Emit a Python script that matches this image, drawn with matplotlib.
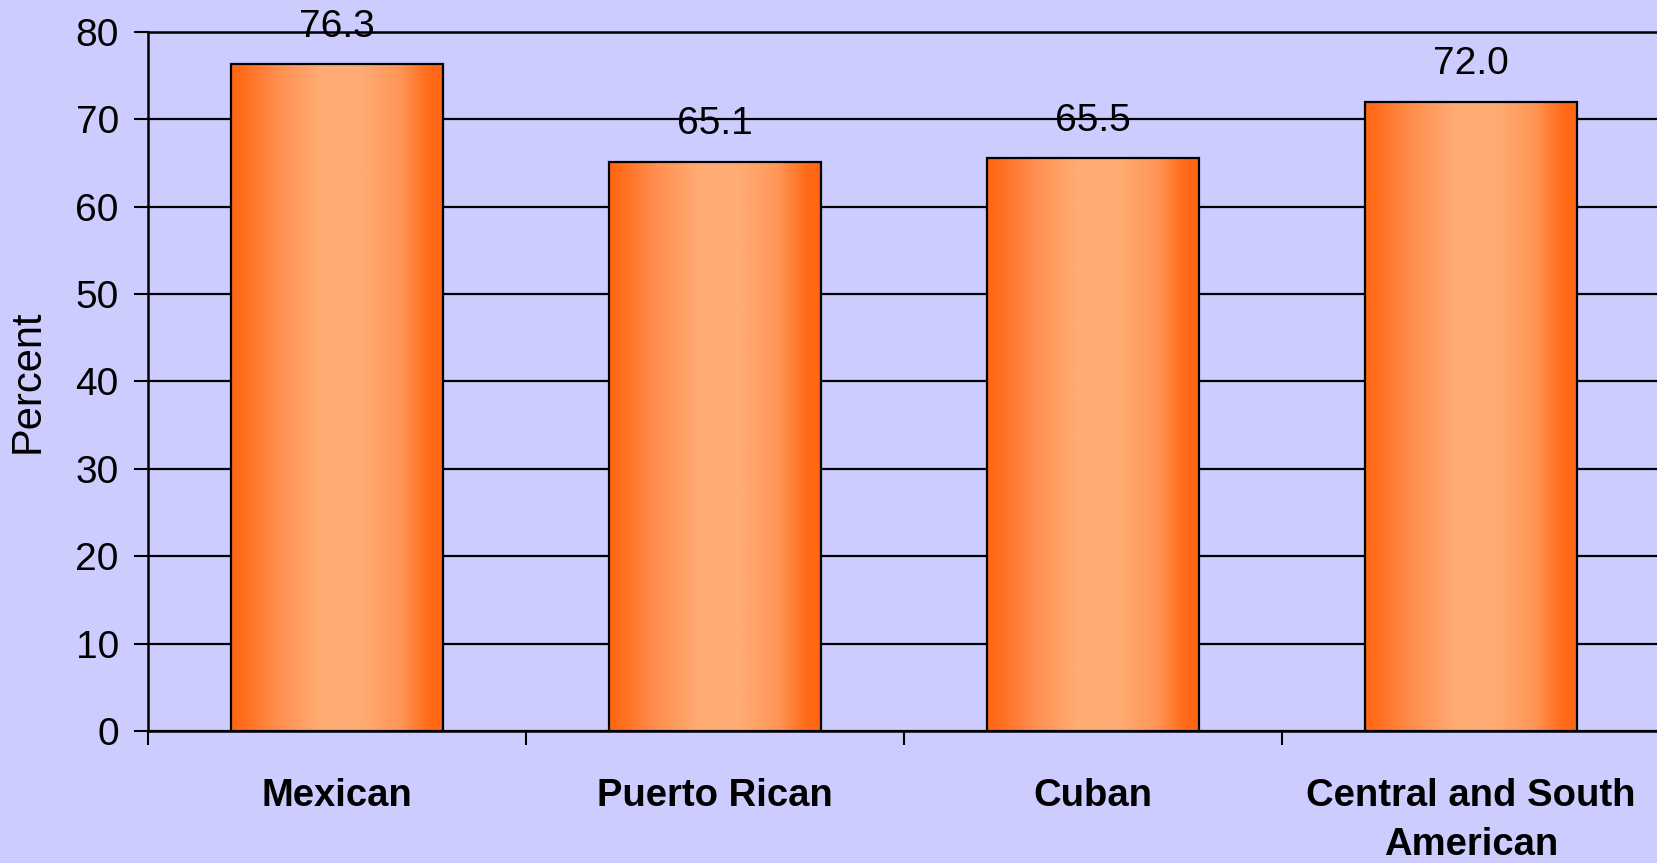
import numpy as np
import matplotlib
matplotlib.use("Agg")
import matplotlib.pyplot as plt
from matplotlib.colors import LinearSegmentedColormap

# ── Data ─────────────────────────────────────────────────────────────────────
categories = ["Mexican", "Puerto Rican", "Cuban", "Central and South\nAmerican"]
values     = [76.3, 65.1, 65.5, 72.0]
y_ticks    = [0, 10, 20, 30, 40, 50, 60, 70, 80]

BG    = "#CCCCFF"
DARK  = "#FF6612"
LIGHT = "#FFAB74"

plt.rcParams["font.family"] = ["Liberation Sans", "DejaVu Sans"]

grad_cmap = LinearSegmentedColormap.from_list(
    "bar_grad",
    [(0.00, DARK), (0.06, "#FF6E1E"), (0.22, "#FF8F4F"), (0.42, LIGHT),
     (0.62, LIGHT), (0.80, "#FF9657"), (0.93, "#FF6C1A"), (1.00, DARK)],
)

fig = plt.figure(figsize=(16.57, 8.63), dpi=100, facecolor=BG)
ax = fig.add_axes([148 / 1657, 1 - 731 / 863, 1512 / 1657, (731 - 31.7) / 863])
ax.set_facecolor(BG)

x = np.arange(len(categories)) + 0.5
bars = ax.bar(x, values, width=0.56, color="none", edgecolor="black",
              linewidth=1.6, zorder=3)

# horizontal gradient fill clipped to each bar
grad = np.linspace(0, 1, 256).reshape(1, -1)
for b in bars:
    x0, w, h = b.get_x(), b.get_width(), b.get_height()
    im = ax.imshow(grad, cmap=grad_cmap, aspect="auto",
                   extent=(x0, x0 + w, 0, h), zorder=2, interpolation="bilinear")
    im.set_clip_path(b)

for xi, v in zip(x, values):
    ax.annotate(f"{v:.1f}", (xi, v), xytext=(0, 27), textcoords="offset points",
                ha="center", va="center", fontsize=28, zorder=4)

ax.set_xlim(0, 4)
ax.set_ylim(0, 80)
ax.set_yticks(y_ticks)
ax.yaxis.grid(True, color="black", linewidth=1.6, zorder=1)
ax.set_axisbelow(True)

ax.set_xticks(x)
ax.set_xticklabels(categories, fontsize=27.5, fontweight="bold", linespacing=1.45)
ax.set_xticks(np.arange(0, 5), minor=True)
ax.tick_params(axis="x", which="major", length=0, pad=34)
ax.tick_params(axis="x", which="minor", length=10, width=1.5, direction="out")
ax.tick_params(axis="y", length=10, width=1.5, pad=11, labelsize=28)

ax.set_ylabel("Percent", fontsize=30, labelpad=20)

for side in ["left", "bottom", "top"]:
    ax.spines[side].set_linewidth(1.8)
ax.spines["right"].set_visible(False)

plt.savefig("out.png", dpi=100, facecolor=BG)
plt.close()
